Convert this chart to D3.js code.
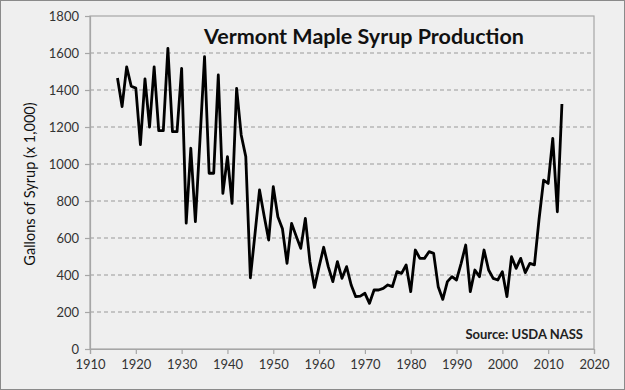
<!DOCTYPE html>
<html>
<head>
<meta charset="utf-8">
<script src="https://cdn.jsdelivr.net/npm/d3@7"></script>
<style>
  body { margin: 0; background: #fff; }
  svg text { font-family: Lato, "Open Sans", sans-serif; }
</style>
</head>
<body>
<div id="chart"></div>
<script>
// production per year, thousands of gallons
var years = [1916, 1917, 1918, 1919, 1920, 1921, 1922, 1923, 1924, 1925,
    1926, 1927, 1928, 1929, 1930, 1931, 1932, 1933, 1934, 1935,
    1936, 1937, 1938, 1939, 1940, 1941, 1942, 1943, 1944, 1945,
    1946, 1947, 1948, 1949, 1950, 1951, 1952, 1953, 1954, 1955,
    1956, 1957, 1958, 1959, 1960, 1961, 1962, 1963, 1964, 1965,
    1966, 1967, 1968, 1969, 1970, 1971, 1972, 1973, 1974, 1975,
    1976, 1977, 1978, 1979, 1980, 1981, 1982, 1983, 1984, 1985,
    1986, 1987, 1988, 1989, 1990, 1991, 1992, 1993, 1994, 1995,
    1996, 1997, 1998, 1999, 2000, 2001, 2002, 2003, 2004, 2005,
    2006, 2007, 2008, 2009, 2010, 2011, 2012, 2013]
var gallons = [1465, 1310, 1525, 1420, 1410, 1105, 1460, 1200, 1525, 1180,
    1180, 1625, 1175, 1175, 1517, 680, 1085, 688, 1130, 1580,
    950, 950, 1481, 841, 1040, 787, 1409, 1157, 1040, 385,
    620, 860, 720, 589, 877, 715, 650, 463, 679, 610,
    544, 706, 472, 333, 445, 550, 445, 364, 472, 382,
    445, 346, 283, 286, 301, 247, 319, 319, 328, 346,
    337, 418, 409, 454, 310, 535, 490, 490, 526, 517,
    337, 268, 364, 391, 373, 463, 562, 310, 427, 391,
    535, 427, 382, 373, 418, 283, 499, 436, 490, 413,
    463, 455, 700, 913, 895, 1139, 742, 1324]
var x_ticks = [1910, 1920, 1930, 1940, 1950, 1960, 1970, 1980, 1990, 2000, 2010, 2020]
var y_ticks = [0, 200, 400, 600, 800, 1000, 1200, 1400, 1600, 1800]

var width = 625, height = 390
var margin = { top: 16, right: 31, bottom: 41, left: 90 }
var plot_w = width - margin.left - margin.right
var plot_h = height - margin.top - margin.bottom

var svg = d3.select("#chart").append("svg")
    .attr("width", width)
    .attr("height", height)

// chart background + frame
svg.append("rect")
    .attr("x", 0.5).attr("y", 0.5)
    .attr("width", width - 1).attr("height", height - 1)
    .attr("fill", "#efefef")
    .attr("stroke", "#8a8a8a")

var x = d3.scaleLinear().domain([1910, 2020]).range([0, plot_w])
var y = d3.scaleLinear().domain([0, 1800]).range([plot_h, 0])

var g = svg.append("g")
    .attr("transform", `translate(${margin.left}, ${margin.top})`)

g.append("rect")
    .attr("width", plot_w).attr("height", plot_h)
    .attr("fill", "#efefef")
    .attr("stroke", "#a6a6a6")
    .attr("stroke-width", 1.2)

// dashed gridlines
g.selectAll(".grid")
    .data(y_ticks.filter(function (d) { return d > 0 && d < 1800 }))
    .enter().append("line")
    .attr("x1", 0).attr("x2", plot_w)
    .attr("y1", function (d) { return y(d) }).attr("y2", function (d) { return y(d) })
    .attr("stroke", "#9a9a9a")
    .attr("stroke-width", 1.2)
    .attr("stroke-dasharray", "4,3")

var y_axis = g.append("g")
    .call(d3.axisLeft(y).tickValues(y_ticks).tickSize(5).tickPadding(6).tickFormat(d3.format("d")))
var x_axis = g.append("g")
    .attr("transform", `translate(0, ${plot_h})`)
    .call(d3.axisBottom(x).tickValues(x_ticks).tickSize(5).tickPadding(6).tickFormat(d3.format("d")))

;[y_axis, x_axis].forEach(function (a) {
    a.select(".domain").attr("stroke", "#a6a6a6").attr("stroke-width", 1.2)
    a.selectAll(".tick line").attr("stroke", "#a6a6a6").attr("stroke-width", 1.2)
    a.selectAll(".tick text")
        .attr("fill", "#333")
        .style("font-size", "13px")
        .style("font-family", "Lato, 'Open Sans', sans-serif")
})

// the series
var data = years.map(function (d, i) { return { year: d, value: gallons[i] } })
g.append("path")
    .datum(data)
    .attr("fill", "none")
    .attr("stroke", "#000")
    .attr("stroke-width", 2.8)
    .attr("stroke-linejoin", "round")
    .attr("d", d3.line().x(function (d) { return x(d.year) }).y(function (d) { return y(d.value) }))

svg.append("text")
    .attr("x", 364).attr("y", 44)
    .attr("text-anchor", "middle")
    .attr("font-weight", "bold")
    .attr("font-size", "21.5px")
    .attr("fill", "#111")
    .text("Vermont Maple Syrup Production")

svg.append("text")
    .attr("x", 583).attr("y", 339)
    .attr("text-anchor", "end")
    .attr("font-weight", "bold")
    .attr("font-size", "13px")
    .attr("fill", "#222")
    .text("Source: USDA NASS")

svg.append("text")
    .attr("transform", "translate(35, 184) rotate(-90)")
    .attr("text-anchor", "middle")
    .attr("font-size", "14.5px")
    .attr("fill", "#111")
    .text("Gallons of Syrup (x 1,000)")
</script>
</body>
</html>
